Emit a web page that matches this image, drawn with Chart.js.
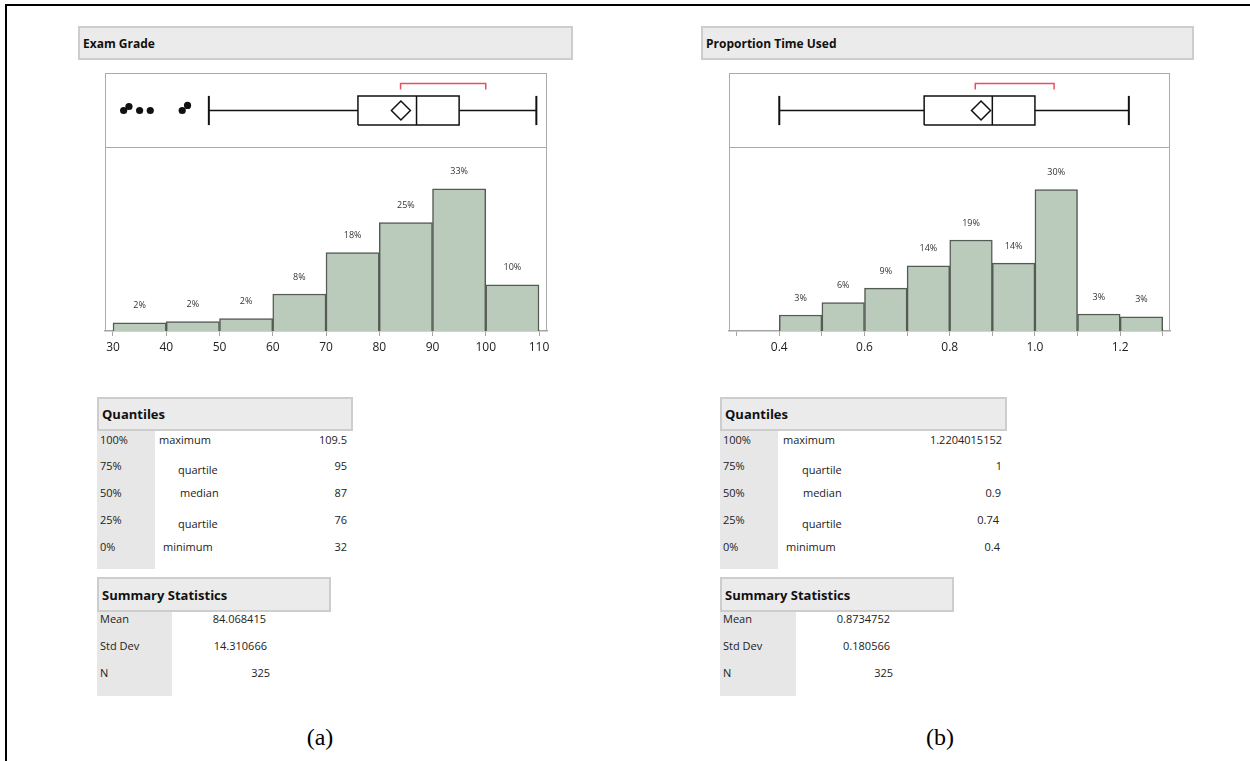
<!DOCTYPE html>
<html>
<head>
<meta charset="utf-8">
<script src="https://cdn.jsdelivr.net/npm/chart.js@4/dist/chart.umd.min.js"></script>
<style>
  html, body { margin: 0; padding: 0; background: #fff; }
  body { width: 1250px; height: 761px; position: relative; overflow: hidden; font-family: "Open Sans", "Noto Sans", sans-serif; color: #222; }
  .abs { position: absolute; }
  .hdr { position: absolute; box-sizing: border-box; background: #ebebeb; border: 2px solid #cdcdcd; font-weight: bold; font-size: 12px; color: #111; padding-left: 3px; display: flex; align-items: center; }
  .thdr { font-size: 13px; }
  .frame { position: absolute; box-sizing: border-box; border: 1.5px solid #ababab; border-bottom: none; }
  .divider { position: absolute; height: 0; border-top: 1.5px solid #ababab; }
  .gcol { position: absolute; background: #e7e7e7; }
  .t { position: absolute; font-size: 11px; line-height: 14px; white-space: nowrap; color: #222; }
  .r { text-align: right; }
  .cap { position: absolute; font-family: "Liberation Serif", "DejaVu Serif", serif; font-size: 24px; line-height: 28px; color: #000; }
  canvas { position: absolute; }
</style>
</head>
<body>
<script>
// ---------------- DATA ----------------
// (a) Exam Grade
const examTitle = "Exam Grade";
const examBinCenters = [35, 45, 55, 65, 75, 85, 95, 105];
const examPercent = [1.9, 2.2, 2.9, 8.6, 18.2, 25.2, 33.0, 10.7];
const examPercentLabels = ["2%", "2%", "2%", "8%", "18%", "25%", "33%", "10%"];
const examTicks = [30, 40, 50, 60, 70, 80, 90, 100, 110];
const examTickLabels = ["30", "40", "50", "60", "70", "80", "90", "100", "110"];
const examWhiskers = [48, 109.5];
const examQuartiles = [76, 87, 95];        // q1, median, q3
const examMean = 84.068415;
const examShortestHalf = [84, 100];
const examOutliers = [32, 33, 35, 37, 43, 44];
const examOutlierJitter = [0, 0.11, 0, 0, 0, 0.14];
const examQuantileLevels = ["100%", "75%", "50%", "25%", "0%"];
const examQuantileNames = ["maximum", "quartile", "median", "quartile", "minimum"];
const examQuantileValues = ["109.5", "95", "87", "76", "32"];
const examStatNames = ["Mean", "Std Dev", "N"];
const examStatValues = ["84.068415", "14.310666", "325"];

// (b) Proportion Time Used
const timeTitle = "Proportion Time Used";
const timeBinCenters = [0.45, 0.55, 0.65, 0.75, 0.85, 0.95, 1.05, 1.15, 1.25];
const timePercent = [3.4, 6.0, 9.1, 13.8, 19.3, 14.4, 30.0, 3.6, 3.0];
const timePercentLabels = ["3%", "6%", "9%", "14%", "19%", "14%", "30%", "3%", "3%"];
const timeTicks = [0.3, 0.4, 0.5, 0.6, 0.7, 0.8, 0.9, 1.0, 1.1, 1.2, 1.3];
const timeTickLabels = ["", "0.4", "", "0.6", "", "0.8", "", "1.0", "", "1.2", ""];
const timeWhiskers = [0.4, 1.2204015152];
const timeQuartiles = [0.74, 0.9, 1];
const timeMean = 0.8734752;
const timeShortestHalf = [0.86, 1.045];
const timeOutliers = [];
const timeOutlierJitter = [];
const timeQuantileLevels = ["100%", "75%", "50%", "25%", "0%"];
const timeQuantileNames = ["maximum", "quartile", "median", "quartile", "minimum"];
const timeQuantileValues = ["1.2204015152", "1", "0.9", "0.74", "0.4"];
const timeStatNames = ["Mean", "Std Dev", "N"];
const timeStatValues = ["0.8734752", "0.180566", "325"];

// ---------------- LAYOUT HELPERS ----------------
const FONT = '"Open Sans", "Noto Sans", sans-serif';
function el(tag, cls, style, text) {
  const e = document.createElement(tag);
  if (cls) e.className = cls;
  Object.assign(e.style, style);
  if (text !== undefined) e.textContent = text;
  document.body.appendChild(e);
  return e;
}
function canvas(left, top, w, h) {
  const c = el('canvas', '', { left: left + 'px', top: top + 'px', width: w + 'px', height: h + 'px' });
  c.width = w; c.height = h;
  return c;
}

// outer border (top & left)
el('div', 'abs', { left: '6px', top: '4px', width: '1244px', height: '2px', background: '#000' });
el('div', 'abs', { left: '5px', top: '4px', width: '2px', height: '757px', background: '#000' });

function pctLabelPlugin(labels) {
  return {
    id: 'pctLabels',
    afterDatasetsDraw(chart) {
      const ctx = chart.ctx;
      const meta = chart.getDatasetMeta(0);
      ctx.save();
      ctx.font = '9px ' + FONT;
      ctx.fillStyle = '#333';
      ctx.textAlign = 'center';
      ctx.textBaseline = 'middle';
      meta.data.forEach((bar, i) => ctx.fillText(labels[i], bar.x, bar.y - 17));
      ctx.restore();
    }
  };
}

function buildPanel(p) {
  // header
  el('div', 'hdr', { left: p.hdrX + 'px', top: '26px', width: p.hdrW + 'px', height: '34px' }, p.title);
  // frame
  el('div', 'frame', { left: p.fx + 'px', top: '73px', width: p.fw + 'px', height: '258px' });
  el('div', 'divider', { left: p.fx + 'px', top: '147px', width: p.fw + 'px' });

  // ---- box plot chart ----
  const h = 0.4;            // half box height in y units
  const bTop = 0.74, bTick = 0.575;
  const [q1, med, q3] = p.quartiles;
  const [wl, wr] = p.whiskers;
  const line = (pts, color, w) => ({ type: 'scatter', data: pts, showLine: true, borderColor: color || '#111', borderWidth: w || 1.5, pointRadius: 0, fill: false, clip: false });
  const boxDatasets = [
    { type: 'scatter', data: [{ x: p.mean, y: 0 }], pointStyle: 'rectRot', pointRadius: 9.5, pointBackgroundColor: '#fff', pointBorderColor: '#111', pointBorderWidth: 1.5, clip: false },
    line([{ x: q1, y: -h }, { x: q3, y: -h }, { x: q3, y: h }, { x: q1, y: h }, { x: q1, y: -h }]),
    line([{ x: med, y: -h }, { x: med, y: h }]),
    line([{ x: wl, y: 0 }, { x: q1, y: 0 }]),
    line([{ x: q3, y: 0 }, { x: wr, y: 0 }]),
    line([{ x: wl, y: -h }, { x: wl, y: h }], '#111', 2),
    line([{ x: wr, y: -h }, { x: wr, y: h }], '#111', 2),
    line([{ x: p.shortHalf[0], y: bTick }, { x: p.shortHalf[0], y: bTop }, { x: p.shortHalf[1], y: bTop }, { x: p.shortHalf[1], y: bTick }], '#e8505b', 1.5),
    { type: 'scatter', data: p.outliers.map((v, i) => ({ x: v, y: p.jitter[i] })), pointRadius: 3.6, pointBackgroundColor: '#111', pointBorderColor: '#111', pointBorderWidth: 0, clip: false }
  ];
  new Chart(canvas(p.fx, 74, p.fw, 73), {
    type: 'scatter',
    data: { datasets: boxDatasets },
    options: {
      responsive: false, animation: false, devicePixelRatio: 1,
      layout: { padding: 0, autoPadding: false },
      plugins: { legend: { display: false }, tooltip: { enabled: false } },
      scales: {
        x: { type: 'linear', display: false, min: p.xmin, max: p.xmax },
        y: { type: 'linear', display: false, min: -1, max: 1 }
      }
    }
  });

  // ---- histogram ----
  new Chart(canvas(p.fx - 20, 148, p.fw + 40, 213), {
    type: 'bar',
    data: {
      datasets: [{
        data: p.centers.map((c, i) => ({ x: c, y: p.pct[i] })),
        backgroundColor: '#bacabb',
        borderColor: '#545b54',
        borderWidth: 1.5,
        barPercentage: 1,
        categoryPercentage: 1
      }]
    },
    options: {
      responsive: false, animation: false, devicePixelRatio: 1,
      layout: { padding: { left: 20, right: 20, top: 0, bottom: 0 }, autoPadding: false },
      plugins: { legend: { display: false }, tooltip: { enabled: false } },
      scales: {
        x: {
          type: 'linear', min: p.xmin, max: p.xmax, offset: false,
          afterBuildTicks: (axis) => { axis.ticks = p.ticks.map(v => ({ value: v })); },
          afterFit: (axis) => { axis.height = 30; },
          ticks: { autoSkip: false, maxRotation: 0, padding: 4, color: '#222', font: { size: 12, family: FONT },
                   callback: (v, i) => p.tickLabels[i] },
          grid: { offset: false, drawOnChartArea: false, drawTicks: true, tickLength: 5, color: '#a5a5a5', lineWidth: 1 },
          border: { display: true, color: '#a5a5a5', width: 1.5 }
        },
        y: { type: 'linear', display: false, min: 0, max: p.ymax }
      }
    },
    plugins: [pctLabelPlugin(p.pctLabels)]
  });

  // ---- quantiles table ----
  const tx = p.tx;
  el('div', 'hdr thdr', { left: tx + 'px', top: '397px', width: p.qW + 'px', height: '34px' }, 'Quantiles');
  el('div', 'gcol', { left: tx + 'px', top: '431px', width: '58px', height: '138px' });
  const rowsY = [433, 459, 486, 513, 540];
  const nameOff = [0, 4, 0, 4, 0];
  p.qLevels.forEach((s, i) => {
    el('div', 't', { left: (tx + 3) + 'px', top: rowsY[i] + 'px' }, s);
    el('div', 't', { left: (tx + p.nameX[i]) + 'px', top: (rowsY[i] + nameOff[i]) + 'px' }, p.qNames[i]);
    el('div', 't r', { right: (1250 - p.qValR[i]) + 'px', top: rowsY[i] + 'px' }, p.qValues[i]);
  });

  // ---- summary table ----
  el('div', 'hdr thdr', { left: tx + 'px', top: '577px', width: '234px', height: '35px' }, 'Summary Statistics');
  el('div', 'gcol', { left: tx + 'px', top: '612px', width: p.sColW + 'px', height: '84px' });
  const sY = [612, 639, 666];
  p.sNames.forEach((s, i) => {
    el('div', 't', { left: (tx + 3) + 'px', top: sY[i] + 'px' }, s);
    el('div', 't r', { right: (1250 - p.sValR[i]) + 'px', top: sY[i] + 'px' }, p.sValues[i]);
  });

  // caption
  el('div', 'cap', { left: (p.capX - 50) + 'px', top: '723px', width: '100px', textAlign: 'center' }, p.caption);
}

buildPanel({
  title: examTitle, hdrX: 78, hdrW: 495, fx: 105, fw: 442,
  xmin: 28.5, xmax: 111.5, ymax: 42.5,
  centers: examBinCenters, pct: examPercent, pctLabels: examPercentLabels,
  ticks: examTicks, tickLabels: examTickLabels,
  whiskers: examWhiskers, quartiles: examQuartiles, mean: examMean, shortHalf: examShortestHalf,
  outliers: examOutliers, jitter: examOutlierJitter,
  tx: 97, qW: 256, nameX: [62, 81, 83, 81, 66], qValR: [347, 347, 347, 347, 347],
  qLevels: examQuantileLevels, qNames: examQuantileNames, qValues: examQuantileValues,
  sColW: 75, sNames: examStatNames, sValues: examStatValues, sValR: [266, 267, 270],
  capX: 320, caption: "(a)"
});

buildPanel({
  title: timeTitle, hdrX: 701, hdrW: 493, fx: 729, fw: 441,
  xmin: 0.282, xmax: 1.317, ymax: 38.8,
  centers: timeBinCenters, pct: timePercent, pctLabels: timePercentLabels,
  ticks: timeTicks, tickLabels: timeTickLabels,
  whiskers: timeWhiskers, quartiles: timeQuartiles, mean: timeMean, shortHalf: timeShortestHalf,
  outliers: timeOutliers, jitter: timeOutlierJitter,
  tx: 720, qW: 287, nameX: [63, 82, 83, 82, 66], qValR: [1002, 1002, 1001, 999, 1000],
  qLevels: timeQuantileLevels, qNames: timeQuantileNames, qValues: timeQuantileValues,
  sColW: 76, sNames: timeStatNames, sValues: timeStatValues, sValR: [890, 890, 893],
  capX: 940, caption: "(b)"
});
</script>
</body>
</html>
